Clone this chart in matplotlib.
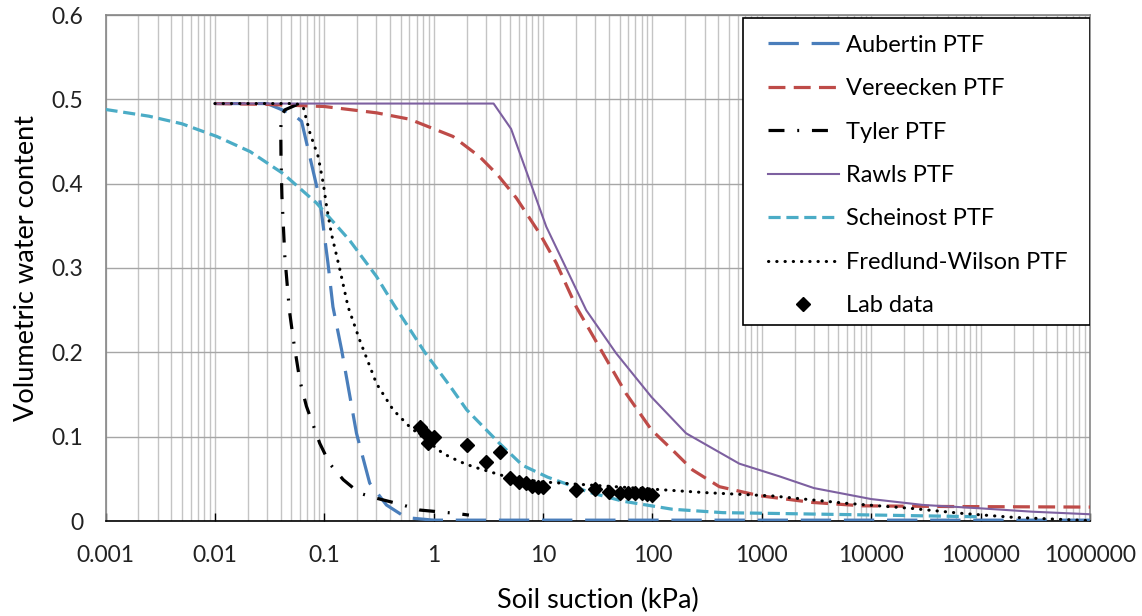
import numpy as np
import matplotlib
matplotlib.use('Agg')
from matplotlib import pyplot as plt
from matplotlib.patches import Rectangle

plt.rcParams['font.family'] = ['Lato', 'DejaVu Sans']

# suction (kPa) / volumetric water content for each PTF
aubertin_x = [0.01, 0.03, 0.052, 0.062, 0.091, 0.108, 0.12, 0.144, 0.197, 0.26, 0.37, 0.56, 1.0,
              10, 100, 1000, 1e4, 1e5, 1e6]
aubertin_y = [0.495, 0.495, 0.482, 0.474, 0.381, 0.306, 0.254, 0.203, 0.104, 0.045, 0.019, 0.004, 0.001,
              0.001, 0.001, 0.001, 0.001, 0.001, 0.001]

vereecken_x = [0.01, 0.03, 0.1, 0.3, 0.6, 1.5, 2.63, 3.87, 5.7, 9.3, 13.2, 20.1, 35.2, 57.5, 98,
               153, 233, 409, 949, 2900, 8300, 48000, 1e6]
vereecken_y = [0.495, 0.494, 0.4915, 0.484, 0.4765, 0.456, 0.432, 0.41, 0.383, 0.341, 0.306, 0.254,
               0.199, 0.151, 0.108, 0.084, 0.0605, 0.0407, 0.030, 0.022, 0.018, 0.0172, 0.0165]

tyler_x = [0.0557, 0.0436, 0.0406, 0.0400, 0.0402, 0.0410, 0.0436, 0.0468, 0.0484, 0.0519, 0.0597,
           0.0687, 0.091, 0.112, 0.149, 0.21, 0.30, 0.49, 0.745, 1.61, 2.1]
tyler_y = [0.4935, 0.4875, 0.48, 0.464, 0.432, 0.385, 0.3135, 0.266, 0.246, 0.217, 0.167,
           0.136, 0.092, 0.068, 0.049, 0.033, 0.027, 0.020, 0.013, 0.009, 0.007]

rawls_x = [0.01, 3.53, 5.1, 10.7, 24.8, 46.5, 98, 203, 622, 1445, 3000, 1e4, 3e4, 1e5, 3e5, 1e6]
rawls_y = [0.495, 0.495, 0.465, 0.349, 0.250, 0.199, 0.147, 0.104, 0.068, 0.053, 0.039, 0.026,
           0.019, 0.015, 0.011, 0.008]

scheinost_x = [0.001, 0.0025, 0.005, 0.0104, 0.021, 0.042, 0.085, 0.17, 0.30, 0.425, 0.83, 1.41,
               2.0, 4.0, 6.5, 11, 26.6, 53.6, 153, 439, 1260, 11800, 1e5]
scheinost_y = [0.488, 0.480, 0.471, 0.456, 0.438, 0.412, 0.377, 0.333, 0.290, 0.258, 0.200, 0.160,
               0.132, 0.092, 0.066, 0.052, 0.034, 0.0235, 0.0139, 0.0099, 0.009, 0.007, 0.005]

fw_x = [0.01, 0.055, 0.064, 0.074, 0.088, 0.098, 0.105, 0.116, 0.139, 0.165, 0.21, 0.30,
        0.425, 0.60, 1.22, 1.73, 2.29, 4.6, 9.3, 26.6, 76, 309, 1256, 5900, 23000, 68000, 195000, 1e6]
fw_y = [0.495, 0.495, 0.4915, 0.46, 0.432, 0.40, 0.373, 0.341, 0.298, 0.254, 0.215, 0.163,
        0.132, 0.112, 0.080, 0.0704, 0.0644, 0.0526, 0.0466, 0.0427, 0.0388, 0.0336, 0.0297, 0.021,
        0.015, 0.009, 0.0044, 0.0004]

lab_x = [0.75, 0.83, 0.89, 1.0, 2, 3, 4, 5, 6, 7, 8, 9, 10, 20, 30, 40, 50, 60, 70, 80, 90, 100]
lab_y = [0.112, 0.104, 0.093, 0.100, 0.090, 0.070, 0.082, 0.0506, 0.0466, 0.0447, 0.0415,
         0.040, 0.040, 0.0368, 0.0376, 0.0348, 0.033, 0.033, 0.033, 0.033, 0.032, 0.031]

x_ticks = [0.001, 0.01, 0.1, 1, 10, 100, 1000, 10000, 100000, 1000000]
x_labels = ['0.001', '0.01', '0.1', '1', '10', '100', '1000', '10000', '100000', '1000000']
y_ticks = [0, 0.1, 0.2, 0.3, 0.4, 0.5, 0.6]
y_labels = ['0', '0.1', '0.2', '0.3', '0.4', '0.5', '0.6']

fig = plt.figure(figsize=(11.42, 6.16), dpi=100)
ax = fig.add_axes([105.5 / 1142, 95 / 616, (1090 - 105.5) / 1142, (521 - 15) / 616])

ax.plot(aubertin_x, aubertin_y, color='#4a7ebb', lw=2.3, dashes=(9.5, 4), label='Aubertin PTF', zorder=3)
ax.plot(vereecken_x, vereecken_y, color='#be4b48', lw=2.3, dashes=(5.3, 2.6), label='Vereecken PTF', zorder=3)
ax.plot(tyler_x, tyler_y, color='black', lw=2.3, dashes=(5, 4, 0.6, 4), label='Tyler PTF', zorder=3)
ax.plot(rawls_x, rawls_y, color='#7d60a0', lw=1.5, label='Rawls PTF', zorder=3)
ax.plot(scheinost_x, scheinost_y, color='#4bacc6', lw=2.3, dashes=(3.8, 1.8), label='Scheinost PTF', zorder=3)
ax.plot(fw_x, fw_y, color='black', lw=2.2, dashes=(0.1, 2.6), dash_capstyle='round',
        label='Fredlund-Wilson PTF', zorder=3)
ax.plot(lab_x, lab_y, 'D', color='black', ms=7.5, label='Lab data', zorder=4)

ax.set_xscale('log')
ax.set_xlim(0.001, 1e6)
ax.set_ylim(0, 0.6)
ax.set_xticks(x_ticks)
ax.set_xticklabels(x_labels)
ax.set_yticks(y_ticks)
ax.set_yticklabels(y_labels)
ax.xaxis.set_minor_locator(matplotlib.ticker.LogLocator(base=10, subs=np.arange(2, 10), numticks=100))
ax.xaxis.set_minor_formatter(matplotlib.ticker.NullFormatter())

ax.grid(True, which='both', axis='x', color='#c4c4c4', lw=1)
ax.grid(True, which='major', axis='y', color='#a6a6a6', lw=1)
ax.set_axisbelow(True)

ax.tick_params(axis='x', which='major', direction='in', length=6, width=1, color='black',
               labelsize=16.5, pad=17, labelcolor='#222222')
ax.tick_params(axis='x', which='minor', length=0)
ax.tick_params(axis='y', length=0, labelsize=16.5, pad=16, labelcolor='#222222')

for side in ['left', 'top', 'right']:
    ax.spines[side].set_color('#868686')
    ax.spines[side].set_linewidth(1.2)
ax.spines['bottom'].set_color('black')
ax.spines['bottom'].set_linewidth(1.2)

ax.set_xlabel('Soil suction (kPa)', fontsize=19.5, labelpad=16)
ax.set_ylabel('Volumetric water content', fontsize=19.5, labelpad=9)

# legend box drawn separately so the padding can be wider at the sides
box = Rectangle((0.6476, 0.387), 1.0 - 0.6476, 0.994 - 0.387, transform=ax.transAxes,
                facecolor='white', edgecolor='black', lw=1.2, zorder=4.5)
ax.add_patch(box)
leg = ax.legend(loc='upper left', bbox_to_anchor=(0.673, 0.961), borderaxespad=0, borderpad=0,
                fontsize=17, handlelength=3.0, labelspacing=0.95, frameon=False, handletextpad=0.3)
leg.set_zorder(6)

fig.savefig('out.png', dpi=100)
